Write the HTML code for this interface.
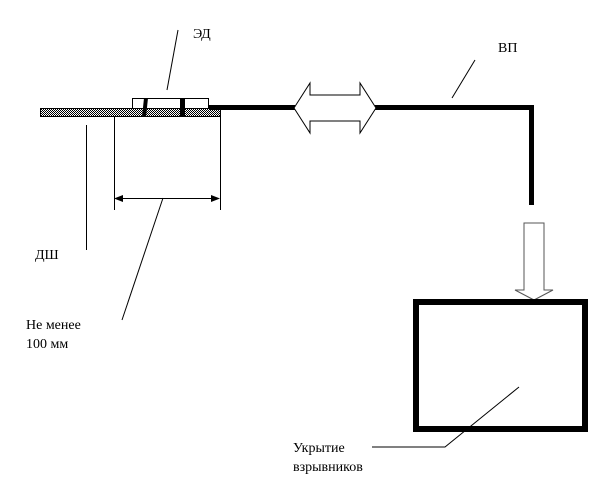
<!DOCTYPE html>
<html><head><meta charset="utf-8"><style>
body{margin:0;background:#fff}
svg text{font-family:"Liberation Serif",serif;font-size:14px;fill:#000}
</style></head><body>
<svg width="612" height="496" viewBox="0 0 612 496" xmlns="http://www.w3.org/2000/svg">
<defs>
<pattern id="h" width="2" height="2" patternUnits="userSpaceOnUse">
<rect width="2" height="2" fill="#fff"/><rect width="1" height="1" fill="#000"/><rect x="1" y="1" width="1" height="1" fill="#000"/>
</pattern>
</defs>
<rect x="40.5" y="108.5" width="180" height="8" fill="url(#h)" stroke="#000"/>
<rect x="132.5" y="98.5" width="76" height="10" fill="#fff" stroke="#000"/>
<polygon points="144,98 148,98 146,117 142,117" fill="#000"/>
<rect x="180" y="98" width="5" height="19" fill="#000"/>
<rect x="209" y="105" width="86" height="5" fill="#000"/>
<rect x="375" y="105" width="159" height="5" fill="#000"/>
<rect x="529" y="105" width="5" height="100" fill="#000"/>
<polygon points="294,108 310,83 310,95 360,95 360,83 376,108 360,133 360,121 310,121 310,133" fill="#fff" stroke="#000"/>
<polygon points="524,223 544,223 544,290 553,290 534,300 515,290 524,290" fill="#fff" stroke="#555"/>
<rect x="416" y="302" width="169" height="127" fill="none" stroke="#000" stroke-width="6"/>
<g stroke="#000" stroke-width="1" fill="none">
<line x1="86.5" y1="125" x2="86.5" y2="250"/>
<line x1="114.5" y1="117" x2="114.5" y2="210"/>
<line x1="220.5" y1="117" x2="220.5" y2="210"/>
<line x1="118" y1="198.5" x2="216" y2="198.5"/>
<line x1="163" y1="198" x2="122" y2="320"/>
<line x1="178" y1="30" x2="167" y2="90"/>
<line x1="475" y1="60" x2="452" y2="98"/>
<polyline points="519,387 445,447 372,447"/>
</g>
<polygon points="114,198.5 123,195 123,202" fill="#000"/>
<polygon points="220,198.5 211,195 211,202" fill="#000"/>
<text x="193" y="38">ЭД</text>
<text x="498" y="52">ВП</text>
<text x="35" y="259">ДШ</text>
<text x="26" y="329">Не менее</text>
<text x="26" y="348">100 мм</text>
<text x="293" y="452">Укрытие</text>
<text x="293" y="471">взрывников</text>
</svg>
</body></html>
